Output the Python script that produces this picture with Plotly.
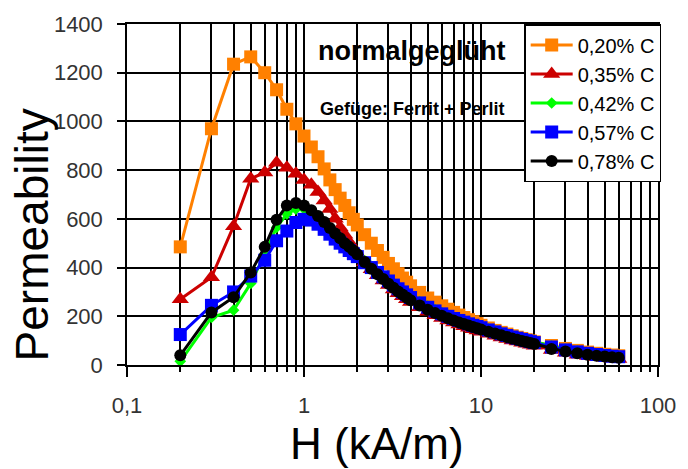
import plotly.graph_objects as go

H = [0.2, 0.3, 0.4, 0.5, 0.6, 0.7, 0.8, 0.9,
     1.0, 1.1, 1.2, 1.3, 1.4, 1.5, 1.6, 1.7, 1.8, 1.9, 2.0,
     2.2, 2.4, 2.6, 2.8, 3.0, 3.2, 3.4, 3.6, 3.8, 4.0,
     4.5, 5, 5.5, 6, 6.5, 7, 7.5, 8, 8.5, 9, 9.5,
     10, 11, 12, 13, 14, 15, 16, 17, 18, 19, 20,
     25, 30, 35, 40, 45, 50, 55, 60]

c020 = [485, 970, 1235, 1265, 1200, 1130, 1050, 990,
        940, 895, 855, 805, 760, 720, 685, 655, 625, 598, 575,
        535, 500, 470, 442, 417, 395, 375, 357, 340, 325,
        298, 275, 258, 243, 229, 216, 205, 195, 186, 178, 170,
        163, 152, 142, 134, 127, 120, 114, 109, 104, 99, 95,
        80, 68, 60, 53, 48, 44, 41, 38]

c035 = [270, 360, 570, 765, 790, 830, 810, 785,
        760, 740, 710, 675, 640, 600, 565, 535, 505, 480, 458,
        422, 393, 368, 347, 328, 310, 295, 282, 270, 259,
        237, 219, 204, 193, 183, 174, 166, 159, 153, 147, 142,
        137, 128, 120, 113, 107, 101, 96, 91, 87, 83, 79,
        62, 50, 42, 37, 33, 30, 27, 25]

c042 = [15, 195, 225, 335, 455, 565, 620, 640,
        640, 628, 605, 583, 558, 537, 517, 499, 482, 468, 455,
        428, 405, 385, 367, 350, 334, 319, 306, 294, 283,
        260, 242, 227, 215, 205, 196, 188, 181, 174, 168, 163,
        158, 148, 140, 132, 125, 119, 114, 109, 104, 100, 96,
        78, 65, 57, 50, 45, 41, 38, 35]

c057 = [125, 245, 300, 365, 430, 510, 550, 585,
        598, 595, 578, 557, 537, 517, 500, 485, 470, 457, 445,
        420, 400, 380, 362, 345, 328, 313, 300, 288, 277,
        255, 237, 222, 210, 200, 191, 183, 176, 169, 163, 158,
        153, 144, 136, 128, 121, 115, 110, 105, 100, 96, 92,
        74, 62, 54, 48, 43, 39, 36, 34]

c078 = [40, 216, 278, 380, 485, 596, 655, 665,
        655, 635, 612, 587, 562, 540, 520, 500, 485, 470, 455,
        423, 395, 373, 353, 334, 317, 302, 289, 277, 266,
        244, 227, 213, 202, 192, 183, 175, 168, 162, 156, 151,
        146, 137, 129, 122, 115, 109, 104, 99, 94, 90, 86,
        66, 55, 48, 42, 38, 35, 32, 30]

series_names = ["0,20% C", "0,35% C", "0,42% C", "0,57% C", "0,78% C"]
series_values = [c020, c035, c042, c057, c078]
colors = ["#FF8000", "#CC0000", "#00FF00", "#0000FF", "#000000"]
symbols = ["square", "triangle-up", "diamond", "square", "circle"]
sizes = [13, 15, 9, 13, 12]

x_tickvals = [0.1, 1, 10, 100]
x_ticktext = ["0,1", "1", "10", "100"]
x_minor = [0.2, 0.3, 0.4, 0.5, 0.6, 0.7, 0.8, 0.9,
           2, 3, 4, 5, 6, 7, 8, 9,
           20, 30, 40, 50, 60, 70, 80, 90]

ARIAL = "Liberation Sans, Arial, sans-serif"

fig = go.Figure()
for i, (name, vals, col, sym, sz) in enumerate(zip(series_names, series_values, colors, symbols, sizes)):
    fig.add_trace(go.Scatter(
        x=H, y=vals, name=name, mode="lines+markers", legendgroup=f"g{i}",
        line=dict(color=col, width=3),
        marker=dict(symbol=sym, size=sz, color=col, line=dict(width=0)),
    ))

fig.update_layout(
    width=688, height=469,
    margin=dict(l=127, r=23, t=22, b=104),
    plot_bgcolor="white", paper_bgcolor="white",
    showlegend=True,
    legend=dict(x=1.006, y=1.0, xanchor="right", yanchor="top",
                bgcolor="white", bordercolor="black", borderwidth=1.5,
                font=dict(family=ARIAL, size=20, color="black"),
                itemwidth=42, tracegroupgap=7, traceorder="normal"),
    xaxis=dict(type="log", range=[-1, 2],
               tickmode="array", tickvals=x_tickvals, ticktext=x_ticktext,
               ticks="outside", ticklen=10, tickcolor="black", tickwidth=1.5,
               showgrid=True, gridcolor="black", gridwidth=1.5,
               showline=True, linecolor="black", linewidth=1.5, mirror=True,
               zeroline=False,
               tickfont=dict(family=ARIAL, size=22, color="#333333"),
               ticklabelstandoff=10,
               minor=dict(tickmode="array", tickvals=x_minor, ticks="outside",
                          ticklen=5, tickcolor="black", tickwidth=1.5,
                          showgrid=True, gridcolor="black", gridwidth=1.5)),
    yaxis=dict(range=[0, 1400], tickmode="linear", tick0=0, dtick=200,
               ticks="outside", ticklen=8, tickcolor="black", tickwidth=1.5,
               showgrid=True, gridcolor="black", gridwidth=1.5,
               showline=True, linecolor="black", linewidth=1.5, mirror=True,
               zeroline=False,
               tickfont=dict(family=ARIAL, size=22, color="#333333"),
               ticklabelstandoff=10),
    shapes=[dict(type="rect", xref="paper", yref="paper",
                 x0=0.3457, x1=0.7268, y0=0.665, y1=0.9825,
                 fillcolor="white", line=dict(width=0), layer="between")],
    annotations=[
        dict(text="<b>normalgeglüht</b>", xref="paper", yref="paper",
             x=0.537, y=0.92, xanchor="center", yanchor="middle", showarrow=False,
             font=dict(family=ARIAL, size=27, color="black")),
        dict(text="<b>Gefüge: Ferrit + Perlit</b>", xref="paper", yref="paper",
             x=0.537, y=0.75, xanchor="center", yanchor="middle", showarrow=False,
             font=dict(family=ARIAL, size=18, color="black")),
        dict(text="H (kA/m)", xref="paper", yref="paper",
             x=0.47, y=0, yshift=-78, xanchor="center", yanchor="middle", showarrow=False,
             font=dict(family=ARIAL, size=44, color="black")),
        dict(text="Permeability", xref="paper", yref="paper", textangle=-90,
             x=0, xshift=-95, y=0.38, xanchor="center", yanchor="middle", showarrow=False,
             font=dict(family=ARIAL, size=46, color="black")),
    ],
)

fig.write_html("out.html", config={"displayModeBar": False},
               post_script="document.body.style.margin='0';")
